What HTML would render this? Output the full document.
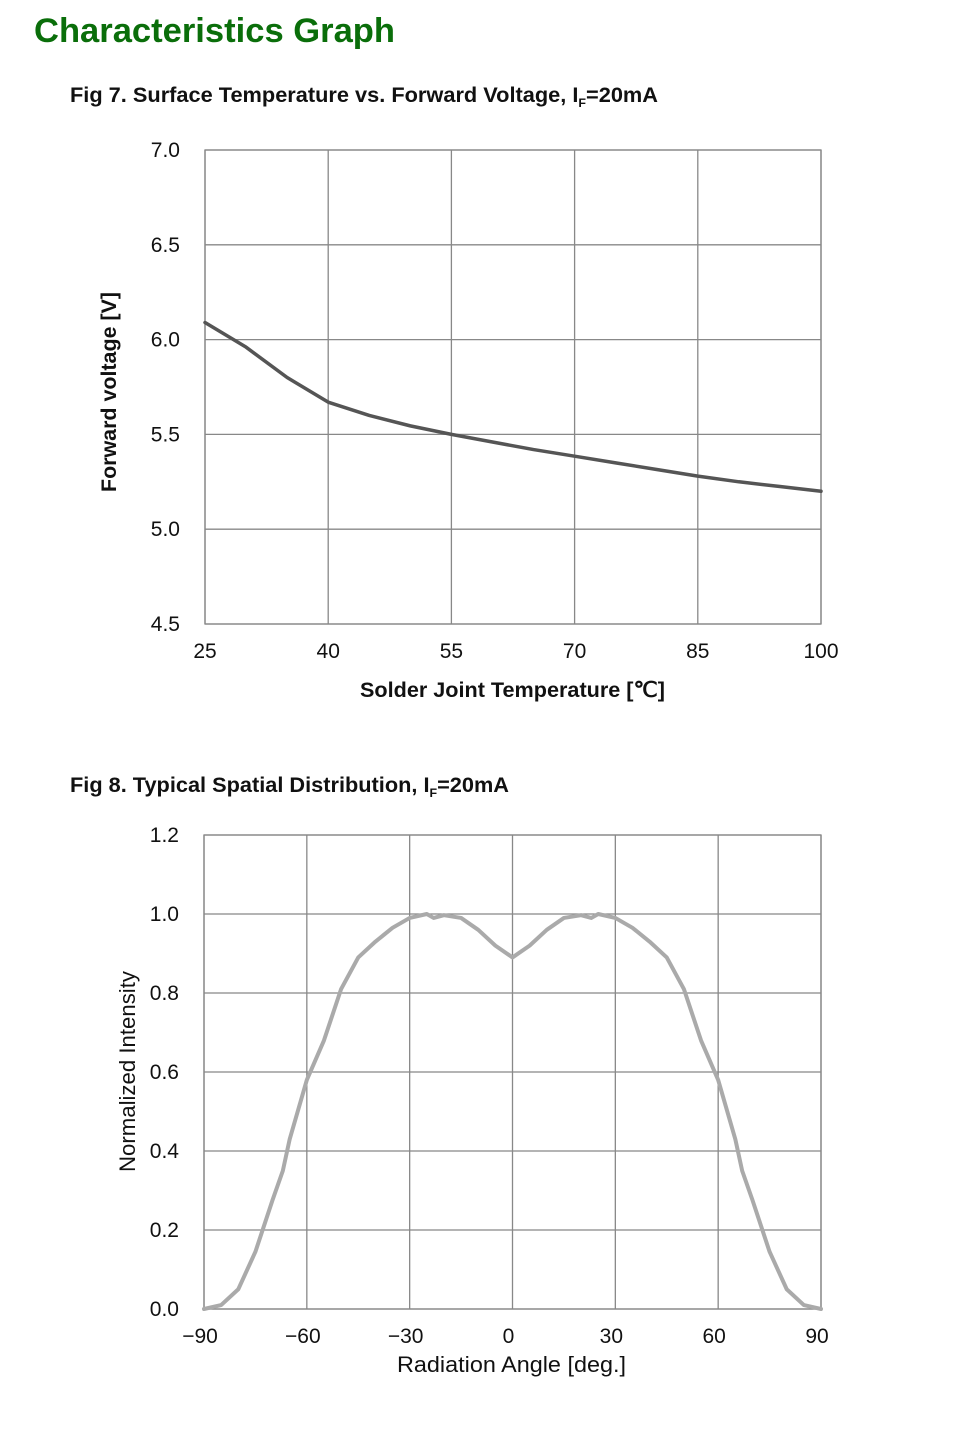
<!DOCTYPE html>
<html><head><meta charset="utf-8">
<style>
body{margin:0;background:#fff;width:955px;height:1442px;overflow:hidden;font-family:"Liberation Sans",Arial,sans-serif;}
svg{position:absolute;left:0;top:0}
</style></head>
<body>
<svg id="s" width="955" height="1442" xmlns="http://www.w3.org/2000/svg" font-family="Liberation Sans, Arial, sans-serif">
<text x="34" y="42" font-size="34" font-weight="bold" fill="#0a6e0a" textLength="361" lengthAdjust="spacingAndGlyphs">Characteristics Graph</text>
<text x="70" y="102" font-size="21" font-weight="bold" fill="#111" textLength="588" lengthAdjust="spacingAndGlyphs">Fig 7. Surface Temperature vs. Forward Voltage, I<tspan font-size="12" dy="5">F</tspan><tspan dy="-5">=20mA</tspan></text>
<text x="70" y="792" font-size="21" font-weight="bold" fill="#111" textLength="439" lengthAdjust="spacingAndGlyphs">Fig 8. Typical Spatial Distribution, I<tspan font-size="12" dy="5">F</tspan><tspan dy="-5">=20mA</tspan></text>
<text x="360" y="697" font-size="21" font-weight="bold" fill="#111" textLength="305" lengthAdjust="spacingAndGlyphs">Solder Joint Temperature [℃]</text>
<text transform="translate(116,492) rotate(-90)" font-size="21" font-weight="bold" fill="#111" textLength="200" lengthAdjust="spacingAndGlyphs">Forward voltage [V]</text>
<text x="397" y="1372" font-size="22" fill="#111" textLength="229" lengthAdjust="spacingAndGlyphs">Radiation Angle [deg.]</text>
<text transform="translate(135,1172) rotate(-90)" font-size="22" fill="#111" textLength="201" lengthAdjust="spacingAndGlyphs">Normalized Intensity</text>
<g id="c1"></g>
<g id="c2"></g>
</svg>
<script>
const tempX=[25,30,35,40,45,50,55,60,65,70,75,80,85,90,95,100];
const voltY=[6.09,5.96,5.80,5.67,5.60,5.545,5.50,5.46,5.42,5.385,5.35,5.315,5.28,5.25,5.225,5.20];
const fig7XTicks=[25,40,55,70,85,100];
const fig7YTicks=["4.5","5.0","5.5","6.0","6.5","7.0"];
const angleX=[-90,-85,-80,-75,-70,-67,-65,-60,-55,-50,-45,-40,-35,-30,-25,-23,-20,-15,-10,-5,0,5,10,15,20,23,25,30,35,40,45,50,55,60,65,67,70,75,80,85,90];
const intensityY=[0,0.01,0.05,0.145,0.276,0.35,0.43,0.58,0.68,0.81,0.89,0.93,0.965,0.99,1.0,0.99,0.997,0.99,0.96,0.92,0.89,0.92,0.96,0.99,0.997,0.99,1.0,0.99,0.965,0.93,0.89,0.81,0.68,0.58,0.43,0.35,0.276,0.145,0.05,0.01,0];
const fig8XTicks=["\u221290","\u221260","\u221230","0","30","60","90"];
const fig8YTicks=["0.0","0.2","0.4","0.6","0.8","1.0","1.2"];
const NS="http://www.w3.org/2000/svg";
function mk(p,t,a){const e=document.createElementNS(NS,t);for(const k in a)e.setAttribute(k,a[k]);p.appendChild(e);return e;}
function chart(g,L,R,T,B,xmin,xmax,ymin,ymax,xt,yt,xs,ys,color,w,fs,prefix,xoff){
 const sx=v=>L+(v-xmin)/(xmax-xmin)*(R-L), sy=v=>B-(v-ymin)/(ymax-ymin)*(B-T);
 xt.forEach(t=>{const v=parseFloat(String(t).replace("\u2212","-"));const x=sx(v);
  const l=mk(g,"line",{x1:x,x2:x,y1:T,y2:B,stroke:"#888","stroke-width":1.3});
  
  
  const tx=mk(g,"text",{x:x+xoff,y:B+34,"font-size":fs,"text-anchor":"middle",fill:"#111"});tx.textContent=t;
  
  });
 yt.forEach(t=>{const y=sy(parseFloat(t));
  const l=mk(g,"line",{x1:L,x2:R,y1:y,y2:y,stroke:"#888","stroke-width":1.3});
  
  
  const tx=mk(g,"text",{x:L-25,y:y+7,"font-size":fs,"text-anchor":"end",fill:"#111"});tx.textContent=t;
  
  });
 const r=mk(g,"rect",{x:L,y:T,width:R-L,height:B-T,fill:"none",stroke:"#888","stroke-width":1.3});
 
 
 const pts=xs.map((v,i)=>sx(v)+","+sy(ys[i])).join(" ");
 const pl=mk(g,"polyline",{points:pts,fill:"none",stroke:color,"stroke-width":w,"stroke-linejoin":"round","stroke-linecap":"round"});
 
 
}
chart(document.getElementById("c1"),205,821,150,624,25,100,4.5,7.0,fig7XTicks,fig7YTicks,tempX,voltY,"#555",3.5,21,"fig7",0);
chart(document.getElementById("c2"),204,821,835,1309,-90,90,0,1.2,fig8XTicks,fig8YTicks,angleX,intensityY,"#aaa",4,21,"fig8",-4);
</script>
</body></html>
